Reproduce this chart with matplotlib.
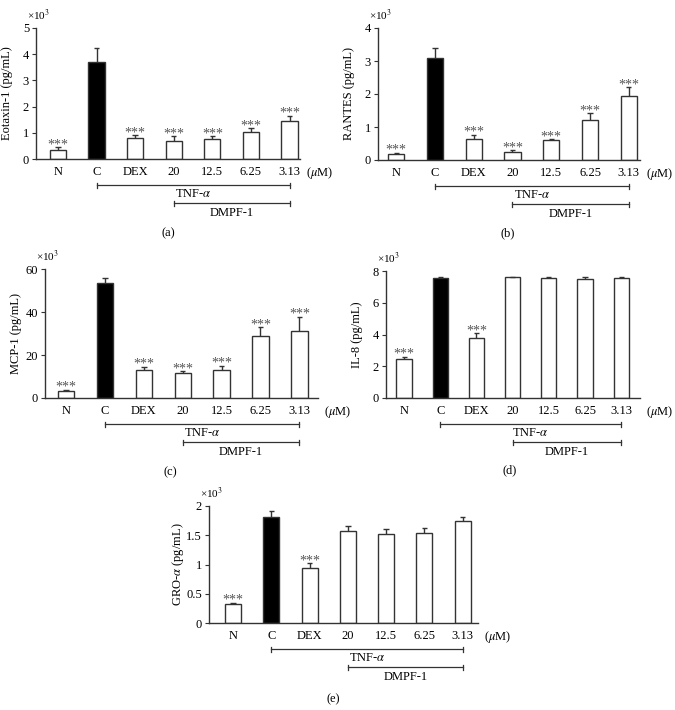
import matplotlib
matplotlib.use('Agg')
import matplotlib.pyplot as plt

plt.rcParams['font.family'] = ['Liberation Serif', 'DejaVu Serif']
plt.rcParams['mathtext.fontset'] = 'stix'

groups = ['N', 'C', 'DEX', '20', '12.5', '6.25', '3.13']

eotaxin = [0.34, 3.71, 0.82, 0.67, 0.76, 1.04, 1.44]
eotaxin_err = [0.11, 0.51, 0.09, 0.19, 0.10, 0.14, 0.21]
eotaxin_sig = [True, False, True, True, True, True, True]

rantes = [0.19, 3.08, 0.64, 0.23, 0.60, 1.20, 1.95]
rantes_err = [0.03, 0.32, 0.12, 0.06, 0.03, 0.21, 0.25]
rantes_sig = [True, False, True, True, True, True, True]

mcp1 = [3.4, 53.7, 12.8, 11.7, 13.2, 29.0, 31.2]
mcp1_err = [0.5, 1.9, 1.8, 0.8, 1.9, 3.9, 6.5]
mcp1_sig = [True, False, True, True, True, True, True]

il8 = [2.43, 7.58, 3.81, 7.60, 7.54, 7.48, 7.54]
il8_err = [0.15, 0.04, 0.27, 0.03, 0.10, 0.17, 0.08]
il8_sig = [True, False, True, False, False, False, False]

gro = [0.32, 1.82, 0.94, 1.58, 1.52, 1.53, 1.75]
gro_err = [0.03, 0.09, 0.08, 0.07, 0.09, 0.09, 0.06]
gro_sig = [True, False, True, False, False, False, False]

FIG_W, FIG_H = 675, 710
EDGE = '#333333'


def add_panel(fig, rect, xlim, values, errors, sig, ylabel, ymax, yticks,
              yticklabels, tag, tag_pos):
    """Одна панель: столбцы, ошибки, звёздочки и скобки под осью"""
    left, right, top, bottom = rect
    w_px, h_px = right - left, bottom - top
    ax = fig.add_axes([left / FIG_W, 1 - bottom / FIG_H, w_px / FIG_W,
                       h_px / FIG_H])
    x = list(range(len(groups)))
    colors = ['black' if g == 'C' else 'white' for g in groups]
    ax.bar(x, values, width=0.42, color=colors, edgecolor=EDGE, lw=1.0,
           zorder=2)
    # только верхняя половина ошибки
    tops = [v + e for v, e in zip(values, errors)]
    ax.vlines(x, values, tops, color=EDGE, lw=1.0, zorder=3)
    ax.hlines(tops, [i - 0.07 for i in x], [i + 0.07 for i in x],
              color=EDGE, lw=1.0, zorder=3)
    for i, (t, s) in enumerate(zip(tops, sig)):
        if s:
            ax.annotate('***', (i, t), xytext=(0, -4),
                        textcoords='offset pixels', ha='center',
                        va='bottom', fontsize=10, color='#555555')

    ax.set_xlim(*xlim)
    ax.set_ylim(0, ymax)
    ax.set_xticks(x)
    ax.set_xticklabels(groups, fontsize=9)
    ax.set_yticks(yticks)
    ax.set_yticklabels(yticklabels, fontsize=9)
    ax.tick_params(axis='x', length=0, pad=5)
    ax.tick_params(axis='y', length=3, width=0.8, pad=2, color=EDGE)
    for side in ('top', 'right'):
        ax.spines[side].set_visible(False)
    for side in ('left', 'bottom'):
        ax.spines[side].set_color(EDGE)
        ax.spines[side].set_linewidth(1.0)
    ax.set_ylabel(ylabel, fontsize=9)
    ax.yaxis.set_label_coords(-23 / w_px, 0.5)

    ax.annotate('×10$^3$', (0, 1), xycoords='axes fraction',
                xytext=(-9, 13), textcoords='offset pixels', ha='left',
                va='center', fontsize=8)
    ax.annotate('($\\mu$M)', (1, 0), xycoords='axes fraction',
                xytext=(6, -14), textcoords='offset pixels', ha='left',
                va='center', fontsize=9)

    # скобки TNF-α и DMPF-1
    trans = ax.get_xaxis_transform()
    for x0, y_line, y_text, label in ((1, 26, 35, 'TNF-$\\alpha$'),
                                      (3, 44, 54, 'DMPF-1')):
        yl = -y_line / h_px
        dy = 2.5 / h_px
        ax.plot([x0, 6], [yl, yl], color=EDGE, lw=0.9, transform=trans,
                clip_on=False)
        for xe in (x0, 6):
            ax.plot([xe, xe], [yl - dy, yl + dy], color=EDGE, lw=0.9,
                    transform=trans, clip_on=False)
        ax.text((x0 + 6) / 2, -y_text / h_px, label, transform=trans,
                ha='center', va='center', fontsize=9)

    fig.text(tag_pos[0] / FIG_W, 1 - tag_pos[1] / FIG_H, tag, ha='center',
             va='center', fontsize=9)
    return ax


fig = plt.figure(figsize=(FIG_W / 100, FIG_H / 100), dpi=100)

add_panel(fig, (36, 300, 28, 159), (-0.57, 6.27), eotaxin, eotaxin_err,
          eotaxin_sig, 'Eotaxin-1 (pg/mL)', 5, [0, 1, 2, 3, 4, 5],
          ['0', '1', '2', '3', '4', '5'], '(a)', (168, 233))
add_panel(fig, (378, 640, 28, 160), (-0.47, 6.29), rantes, rantes_err,
          rantes_sig, 'RANTES (pg/mL)', 4, [0, 1, 2, 3, 4],
          ['0', '1', '2', '3', '4'], '(b)', (508, 233))
add_panel(fig, (45, 318, 269, 398), (-0.54, 6.48), mcp1, mcp1_err,
          mcp1_sig, 'MCP-1 (pg/mL)', 60, [0, 20, 40, 60],
          ['0', '20', '40', '60'], '(c)', (170, 472))
add_panel(fig, (386, 640, 271, 398), (-0.5, 6.52), il8, il8_err,
          il8_sig, 'IL-8 (pg/mL)', 8, [0, 2, 4, 6, 8],
          ['0', '2', '4', '6', '8'], '(d)', (510, 470))
add_panel(fig, (209, 478, 506, 623), (-0.63, 6.4), gro, gro_err,
          gro_sig, 'GRO-$\\alpha$ (pg/mL)', 2, [0, 0.5, 1, 1.5, 2],
          ['0', '0.5', '1', '1.5', '2'], '(e)', (333, 699))

fig.savefig('out.png', dpi=100, facecolor='white')
